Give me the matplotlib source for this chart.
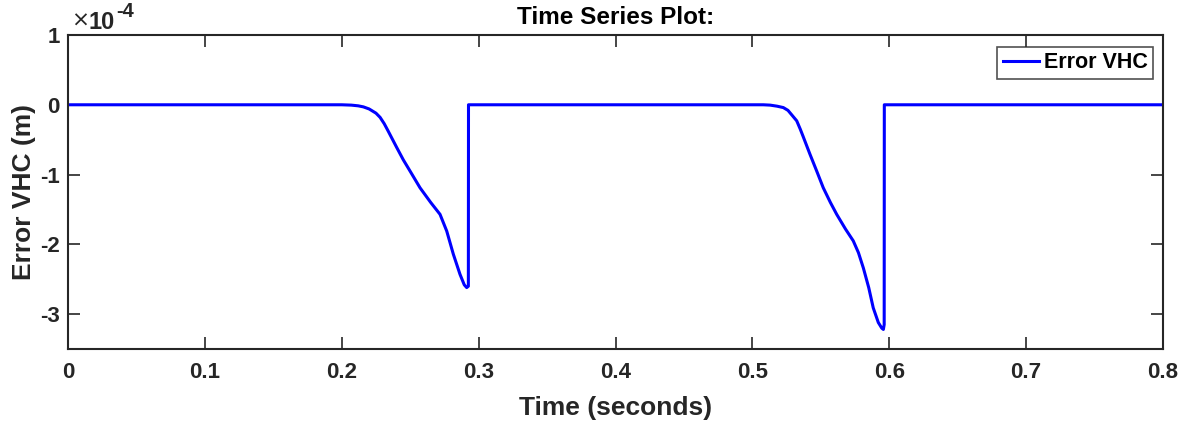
import matplotlib
matplotlib.use("Agg")
import matplotlib.pyplot as plt
from matplotlib.ticker import FuncFormatter

plt.rcParams['font.family'] = ['Liberation Sans', 'DejaVu Sans']
plt.rcParams['font.weight'] = 'bold'

# Data (time in s, error in m)
time_s = [0.0, 0.200, 0.2070, 0.2120, 0.2158, 0.2200, 0.2250, 0.2280, 0.2310, 0.2340,
          0.2401, 0.2450, 0.2499, 0.2572, 0.2650, 0.2718, 0.2767, 0.2815, 0.2864,
          0.2895, 0.2913, 0.2925, 0.2926,
          0.5080, 0.5130, 0.5180, 0.5226, 0.5260, 0.5290, 0.5324, 0.5350, 0.5370,
          0.5421, 0.5470, 0.5518, 0.5570, 0.5616, 0.5680, 0.5737, 0.5775, 0.5811,
          0.5850, 0.5883, 0.5920, 0.5945, 0.5957, 0.5963, 0.5964, 0.8]
error_m = [0.0, 0.0, -0.005e-4, -0.015e-4, -0.03e-4, -0.06e-4, -0.12e-4, -0.18e-4, -0.27e-4, -0.38e-4,
           -0.61e-4, -0.79e-4, -0.95e-4, -1.19e-4, -1.40e-4, -1.57e-4, -1.81e-4, -2.14e-4, -2.43e-4,
           -2.58e-4, -2.62e-4, -2.60e-4, 0.0,
           0.0, -0.005e-4, -0.02e-4, -0.04e-4, -0.08e-4, -0.15e-4, -0.23e-4, -0.35e-4, -0.45e-4,
           -0.71e-4, -0.95e-4, -1.19e-4, -1.40e-4, -1.57e-4, -1.78e-4, -1.95e-4, -2.12e-4, -2.34e-4,
           -2.62e-4, -2.91e-4, -3.12e-4, -3.20e-4, -3.22e-4, -3.15e-4, 0.0, 0.0]

xticks = [0, 0.1, 0.2, 0.3, 0.4, 0.5, 0.6, 0.7, 0.8]
xtick_labels = ['0', '0.1', '0.2', '0.3', '0.4', '0.5', '0.6', '0.7', '0.8']
yticks = [-3e-4, -2e-4, -1e-4, 0, 1e-4]

W, H = 1193, 428
fig = plt.figure(figsize=(W / 100, H / 100), dpi=100)
ax = fig.add_axes([68/W, 1 - 349/H, (1163-68)/W, (349-35)/H])

ax.plot(time_s, error_m, color='#0000ff', lw=2.2, label='Error VHC')

ax.set_xlim(0, 0.8)
ax.set_ylim(-3.5e-4, 1e-4)
ax.set_xticks(xticks)
ax.set_xticklabels(xtick_labels)
ax.set_yticks(yticks)
ax.yaxis.set_major_formatter(FuncFormatter(lambda v, p: f"{v/1e-4:.0f}"))

dark = '#262626'
ax.tick_params(direction='in', length=8.5, width=1.2, top=True, right=True,
               labelsize=16, colors=dark)
ax.tick_params(axis='x', pad=9)
ax.tick_params(axis='y', pad=6)
for lab in ax.get_xticklabels() + ax.get_yticklabels():
    lab.set_fontweight('bold')
for s in ax.spines.values():
    s.set_linewidth(1.5)
    s.set_color(dark)

ax.set_xlabel('Time (seconds)', fontsize=19, fontweight='bold', color=dark, labelpad=10)
ax.set_ylabel('Error VHC (m)', fontsize=19, fontweight='bold', color=dark, labelpad=3)
ax.set_title('Time Series Plot:', fontsize=17.5, fontweight='bold', color='black', pad=8)

# exponent label
fig.text(71/W, 1 - 27/H, '\u00d7', fontsize=15.5, fontweight='normal', color=dark,
         family='DejaVu Sans', ha='left', va='baseline')
fig.text(89/W, 1 - 29/H, '10', fontsize=17, fontweight='bold', color=dark,
         ha='left', va='baseline')
fig.text(116/W, 1 - 17/H, '-4', fontsize=14.5, fontweight='bold', color=dark,
         ha='left', va='baseline')

leg = ax.legend(loc='upper right', fontsize=15.5, frameon=True, fancybox=False,
                edgecolor=dark, handlelength=1.7, handletextpad=0.2, borderpad=0.25,
                borderaxespad=0, bbox_to_anchor=((1153-68)/1095, (349-47)/314))
leg.get_frame().set_linewidth(1.2)
for t in leg.get_texts():
    t.set_fontweight('bold')

fig.savefig('out.png', dpi=100)
